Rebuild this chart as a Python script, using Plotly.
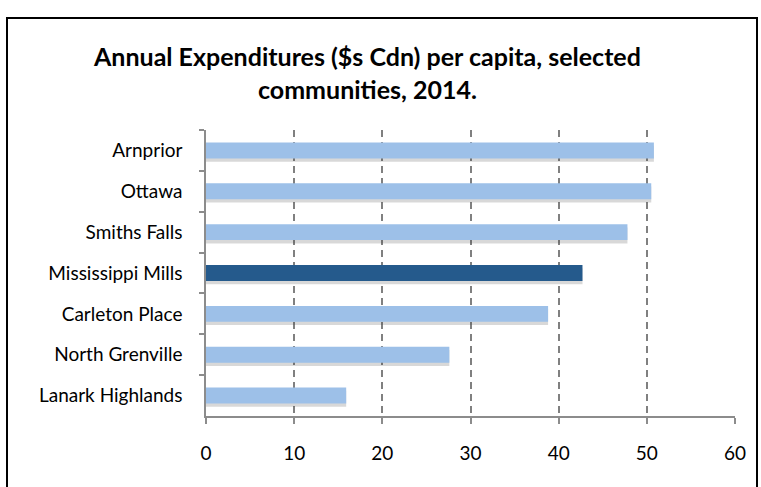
import plotly.graph_objects as go

# Annual per-capita expenditures by community (2014, $s Cdn)
communities = ["Arnprior", "Ottawa", "Smiths Falls", "Mississippi Mills",
               "Carleton Place", "North Grenville", "Lanark Highlands"]
expenditures = [50.8, 50.5, 47.8, 42.7, 38.8, 27.6, 15.9]
highlight = "Mississippi Mills"

x_ticks = [0, 10, 20, 30, 40, 50, 60]

LIGHT = "#9dc0e8"
DARK = "#255a8c"
FONT = "Lato, Carlito, Calibri, sans-serif"

bar_w = 0.39
colors = [DARK if c == highlight else LIGHT for c in communities]

W, H = 761, 487
ml, mr, mt, mb = 206, 26, 130, 71
pw, ph = W - ml - mr, H - mt - mb

fig = go.Figure()

# soft drop shadow under each bar
fig.add_trace(go.Bar(
    x=expenditures, y=communities, orientation="h",
    width=bar_w, offset=-bar_w / 2 + 0.08,
    marker=dict(color="rgba(60,60,60,0.2)", line=dict(width=0)),
    hoverinfo="skip", showlegend=False,
))
fig.add_trace(go.Bar(
    x=expenditures, y=communities, orientation="h",
    width=bar_w, offset=-bar_w / 2,
    marker=dict(color=colors, line=dict(width=0)),
    showlegend=False,
))

def px_x(px):
    return (px - ml) / pw

def px_y(py):
    return (H - mb - py) / ph

# outer frame around the chart
fig.add_shape(type="rect", xref="paper", yref="paper",
              x0=px_x(7), x1=px_x(757), y0=px_y(495), y1=px_y(18),
              line=dict(color="black", width=2), fillcolor="rgba(0,0,0,0)",
              layer="above")

# chart title
fig.add_annotation(
    text="<b>Annual Expenditures ($s Cdn) per capita, selected<br>communities, 2014.</b>",
    xref="paper", yref="paper", x=px_x(367), y=px_y(72),
    xanchor="center", yanchor="middle", showarrow=False, align="center",
    font=dict(family=FONT, size=25, color="black"),
)

fig.update_layout(
    width=W, height=H,
    margin=dict(l=ml, r=mr, t=mt, b=mb),
    paper_bgcolor="white", plot_bgcolor="white",
    barmode="overlay",
    font=dict(family=FONT, size=19, color="black"),
    xaxis=dict(
        range=[0, 60], tickvals=x_ticks, ticktext=[str(v) for v in x_ticks],
        showgrid=True, gridcolor="#808080", griddash="7px,5px", gridwidth=2,
        showline=True, linecolor="#8c8c8c", linewidth=1.5,
        ticks="outside", ticklen=6, tickcolor="#8c8c8c", tickwidth=1.5,
        ticklabelstandoff=13, zeroline=False, fixedrange=True,
        tickfont=dict(family=FONT, size=19, color="black"),
    ),
    yaxis=dict(
        categoryorder="array", categoryarray=communities, autorange="reversed",
        showline=True, linecolor="#8c8c8c", linewidth=1.5,
        ticks="outside", ticklen=5, tickcolor="#8c8c8c", tickwidth=1.5,
        tickson="boundaries", showgrid=False, ticklabelstandoff=18,
        tickfont=dict(family=FONT, size=19, color="black"),
        fixedrange=True,
    ),
)

fig.write_html("out.html")
